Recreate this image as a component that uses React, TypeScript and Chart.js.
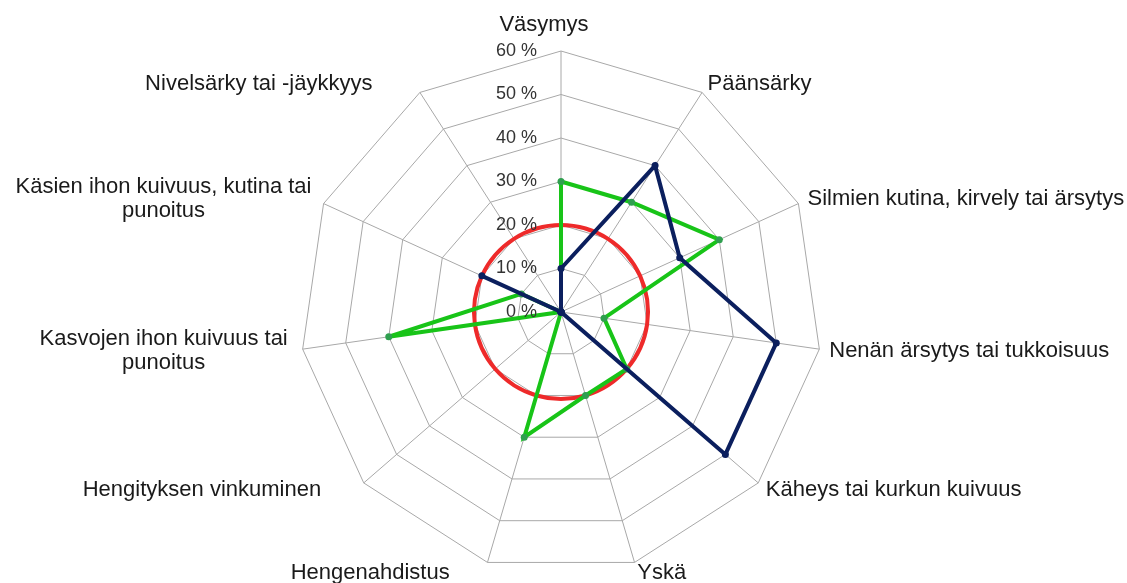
import React, { useEffect, useRef } from 'react';
import { Chart, registerables } from 'chart.js';

Chart.register(...registerables);

// ---- data ----
const categories: string[][] = [
  ['Väsymys'],
  ['Päänsärky'],
  ['Silmien kutina, kirvely tai ärsytys'],
  ['Nenän ärsytys tai tukkoisuus'],
  ['Käheys tai kurkun kuivuus'],
  ['Yskä'],
  ['Hengenahdistus'],
  ['Hengityksen vinkuminen'],
  ['Kasvojen ihon kuivuus tai', 'punoitus'],
  ['Käsien ihon kuivuus, kutina tai', 'punoitus'],
  ['Nivelsärky tai -jäykkyys'],
];
const greenValues = [30, 30, 40, 10, 20, 20, 30, 0, 40, 10, 0];
const blueValues = [10, 40, 30, 50, 50, 0, 0, 0, 0, 20, 0];
const redValues = [20, 20, 20, 20, 20, 20, 20, 20, 20, 20, 20];
const tickMin = 0;
const tickMax = 60;
const tickStep = 10;
const tickSuffix = ' %';

// ---- layout (label nudges in px, not data) ----
const LABEL_NUDGE: [number, number][] = [
  [-17, -16], [0, 0], [0, 0], [0, 0], [0, 0], [0, 1],
  [-35, 1], [-35, 0], [-5, 0], [-3, 0], [-42, 0],
];
const FONT = 'Arial, "Liberation Sans", sans-serif';

const labelPlugin = {
  id: 'customLabels',
  afterDatasetsDraw(chart: any) {
    const scale = chart.scales.r;
    const ctx = chart.ctx as CanvasRenderingContext2D;
    ctx.save();
    // tick labels
    ctx.font = `18px ${FONT}`;
    ctx.fillStyle = '#333333';
    ctx.textAlign = 'right';
    ctx.textBaseline = 'middle';
    scale.ticks.forEach((t: any) => {
      const d = scale.getDistanceFromCenterForValue(t.value);
      ctx.fillText(t.label, scale.xCenter - 24, scale.yCenter - d);
    });
    // point labels
    ctx.font = `22px ${FONT}`;
    ctx.fillStyle = '#1a1a1a';
    ctx.textAlign = 'center';
    const lineH = 24;
    categories.forEach((lines, i) => {
      const p = scale.getPointPosition(i, scale.drawingArea + 10);
      const dx = p.x - scale.xCenter;
      const W = Math.max(...lines.map((l) => ctx.measureText(l).width));
      let cx = p.x;
      if (dx > 5) cx = p.x + W / 2;
      else if (dx < -5) cx = p.x - W / 2;
      cx += LABEL_NUDGE[i][0];
      const cy = p.y + LABEL_NUDGE[i][1];
      lines.forEach((l, k) => {
        ctx.fillText(l, cx, cy + (k - (lines.length - 1) / 2) * lineH);
      });
    });
    ctx.restore();
  },
};

export default function App() {
  const ref = useRef<HTMLCanvasElement>(null);
  useEffect(() => {
    if (!ref.current) return;
    const chart = new Chart(ref.current, {
      type: 'radar',
      data: {
        labels: categories.map((c) => c.join(' ')),
        datasets: [
          {
            label: 'B',
            data: blueValues,
            borderColor: '#0b1f5e',
            backgroundColor: '#0b1f5e',
            pointBackgroundColor: '#0b1f5e',
            pointBorderWidth: 0,
            pointRadius: 3.5,
            borderWidth: 4,
            fill: false,
            tension: 0,
          },
          {
            label: 'G',
            data: greenValues,
            borderColor: '#18c418',
            backgroundColor: '#18c418',
            pointBackgroundColor: '#2f9f4f',
            pointBorderWidth: 0,
            pointRadius: 3.5,
            borderWidth: 4,
            fill: false,
            tension: 0,
          },
          {
            label: 'R',
            data: redValues,
            borderColor: '#ee2a2a',
            backgroundColor: '#ee2a2a',
            pointRadius: 0,
            borderWidth: 4,
            fill: false,
            tension: 0.355,
          },
        ],
      },
      options: {
        responsive: false,
        animation: false,
        events: [],
        layout: { padding: { top: 51, bottom: 10, left: 0, right: 4 } },
        plugins: { legend: { display: false }, tooltip: { enabled: false } },
        scales: {
          r: {
            min: tickMin,
            max: tickMax,
            ticks: {
              stepSize: tickStep,
              display: false,
              callback: (v: any) => `${v}${tickSuffix}`,
            },
            grid: { circular: false, color: '#a8a8a8', lineWidth: 1 },
            angleLines: { display: true, color: '#a8a8a8', lineWidth: 1 },
            pointLabels: { display: false },
          },
        },
      },
      plugins: [labelPlugin],
    });
    return () => chart.destroy();
  }, []);
  return (
    <div style={{ position: 'absolute', left: 0, top: 0, width: 1127, height: 583, background: '#fff' }}>
      <canvas ref={ref} width={1127} height={583} style={{ display: 'block' }} />
    </div>
  );
}
